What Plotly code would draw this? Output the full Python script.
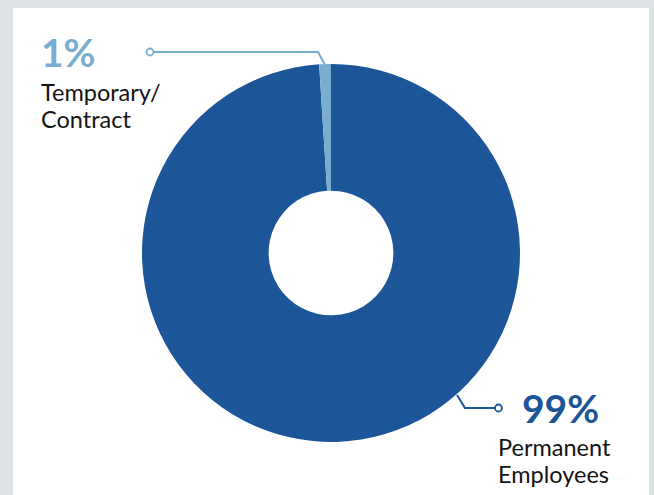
import math
import plotly.graph_objects as go

# Workforce composition (drawn clockwise from 12 o'clock)
categories = ["Permanent Employees", "Temporary/Contract"]
label_lines = [["Permanent", "Employees"], ["Temporary/", "Contract"]]
shares = [99, 1]
pct_text = ["99%", "1%"]
colors = ["#1d5599", "#7aaed0"]

W, H = 654, 495
CX, CY, R = 331, 253, 189


def px(x):
    return x / W


def py(y):
    return 1 - y / H


fig = go.Figure(
    go.Pie(
        labels=categories,
        values=shares,
        hole=0.33,
        sort=False,
        direction="clockwise",
        rotation=0,
        marker=dict(colors=colors, line=dict(width=0)),
        textinfo="none",
        hoverinfo="label+percent",
        showlegend=False,
        domain=dict(x=[px(CX - R), px(CX + R)], y=[py(CY + R), py(CY - R)]),
    )
)

# leader anchor on the rim at the middle of the small slice (just left of 12 o'clock)
mid = math.radians(360 * shares[1] / sum(shares) / 2)
ax, ay = CX - R * math.sin(mid), CY - R * math.cos(mid) + 1

shapes = [
    # white card on a grey page
    dict(type="rect", xref="paper", yref="paper", x0=px(13), x1=px(649), y0=py(8), y1=py(H + 5),
         fillcolor="white", line=dict(width=0), layer="below"),
    # temporary leader
    dict(type="path", xref="paper", yref="paper",
         path=f"M {px(154)} {py(52)} L {px(ax - 7)} {py(52)} L {px(ax)} {py(ay)}",
         line=dict(color=colors[1], width=2)),
    dict(type="circle", xref="paper", yref="paper",
         x0=px(146.5), x1=px(153.5), y0=py(48.5), y1=py(55.5),
         fillcolor="white", line=dict(color=colors[1], width=1.8)),
    # permanent leader
    dict(type="path", xref="paper", yref="paper",
         path=f"M {px(457)} {py(395)} L {px(465)} {py(408)} L {px(495)} {py(408)}",
         line=dict(color=colors[0], width=2)),
    dict(type="circle", xref="paper", yref="paper",
         x0=px(495), x1=px(502), y0=py(404.5), y1=py(411.5),
         fillcolor="white", line=dict(color=colors[0], width=1.8)),
]

FONT = "Lato, 'Open Sans', sans-serif"
NUM_SIZE = 39
LBL_SIZE = 23.5
LINE_GAP = 27

# callout blocks: (x of number, bottom of number box, x of label, top of first label line)
blocks = [(520, 432.5, 496, 431), (39, 77, 39, 76)]

annotations = []
for i, (nx, nb, lx, lt) in enumerate(blocks):
    annotations.append(dict(text=f"<b>{pct_text[i]}</b>", x=px(nx), y=py(nb),
                            xanchor="left", yanchor="bottom",
                            font=dict(family=FONT, size=NUM_SIZE, color=colors[i])))
    for j, line in enumerate(label_lines[i]):
        annotations.append(dict(text=line, x=px(lx), y=py(lt + j * LINE_GAP),
                                xanchor="left", yanchor="top", align="left",
                                font=dict(family=FONT, size=LBL_SIZE, color="#141414")))
for a in annotations:
    a.update(xref="paper", yref="paper", showarrow=False)

fig.update_layout(
    width=W,
    height=H,
    margin=dict(l=0, r=0, t=0, b=0),
    paper_bgcolor="#dde2e5",
    plot_bgcolor="white",
    shapes=shapes,
    annotations=annotations,
)

fig.write_html("out.html")
